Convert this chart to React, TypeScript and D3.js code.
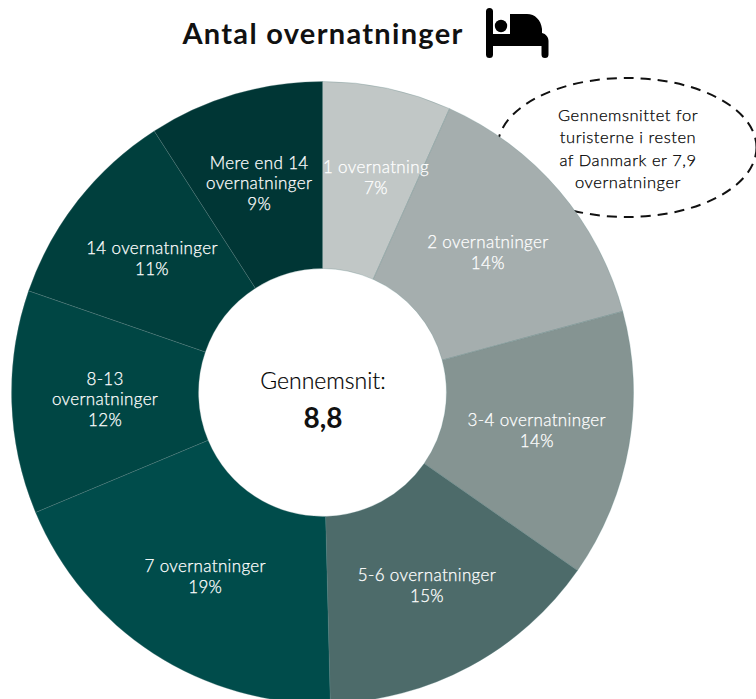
import React from 'react';
import * as d3 from 'd3';

const shares = [6.7, 14.1, 13.9, 14.9, 19.1, 11.6, 10.6, 9.1];
const labels = [
  ['1 overnatning', '7%'],
  ['2 overnatninger', '14%'],
  ['3-4 overnatninger', '14%'],
  ['5-6 overnatninger', '15%'],
  ['7 overnatninger', '19%'],
  ['8-13', 'overnatninger', '12%'],
  ['14 overnatninger', '11%'],
  ['Mere end 14', 'overnatninger', '9%'],
];
const colors = ['#c1c7c6', '#a5aeae', '#859492', '#4d6b6a', '#004c4b', '#004644', '#003f3d', '#003635'];
const noteLines = ['Gennemsnittet for', 'turisterne i resten', 'af Danmark er 7,9', 'overnatninger'];

// hand placed labels, nudged away from the slice centroid
const nudges = [[8, 0], [0, 3], [0, 2.5], [1.5, 3.5], [1, 3.5], [0, 2], [0.5, 2.5], [-2, 1.5]];

const width = 756;
const height = 699;
const cx = 322.5;
const cy = 392.5;
const outer = 311;
const inner = 124;
const font = 'Lato, "Open Sans", sans-serif';

function App() {
  const pie = d3.pie<number>().sort(null)(shares);
  const arc = d3.arc<d3.PieArcDatum<number>>().innerRadius(inner).outerRadius(outer);

  return (
    <svg
      width={width}
      height={height}
      viewBox={`0 0 ${width} ${height}`}
      style={{ position: 'absolute', left: 0, top: 0, fontFamily: font }}
    >
      <rect width={width} height={height} fill="#fff" />

      <text x={323} y={44} textAnchor="middle" fontSize={29} fontWeight={700} letterSpacing={1.3} fill="#111">
        Antal overnatninger
      </text>
      <path
        d="M489.5 8a3.5 3.5 0 0 1 3.5 3.5V34h17V14h17c8 0 14 6 15 15v4c4 1 6.500 4 6.500 8v13.500a3.500 3.500 0 0 1-7 0V46H493v8.500a3.500 3.500 0 0 1-7 0v-43A3.500 3.500 0 0 1 489.500 8z"
        fill="#000"
      />
      <circle cx={501} cy={26} r={6.2} fill="#000" />

      <ellipse
        cx={627}
        cy={147.5}
        rx={129.500}
        ry={69.500}
        fill="none"
        stroke="#111"
        strokeWidth={2}
        strokeDasharray="10 7"
      />

      <g transform={`translate(${cx} ${cy})`}>
        {pie.map((d, i) => (
          <path key={i} d={arc(d) ?? ''} fill={colors[i]} stroke="#5f8583" strokeWidth={0.3} />
        ))}
      </g>

      {pie.map((d, i) => {
        const [x, y] = arc.centroid(d);
        const lines = labels[i];
        const top = cy + y + nudges[i][1] - ((lines.length - 1) * 20.8) / 2;
        return (
          <text
            key={i}
            x={cx + x + nudges[i][0]}
            textAnchor="middle"
            dominantBaseline="middle"
            fontSize={17}
            fontWeight={300}
            letterSpacing={0.35}
            fill="#fff"
            stroke="#fff"
            strokeWidth={0.25}
          >
            {lines.map((line, j) => (
              <tspan key={j} x={cx + x + nudges[i][0]} y={top + j * 20.8}>
                {line}
              </tspan>
            ))}
          </text>
        );
      })}

      <text x={323} y={389} textAnchor="middle" fontSize={23} fontWeight={300} fill="#000" stroke="#000" strokeWidth={0.2}>
        Gennemsnit:
      </text>
      <text x={323} y={428} textAnchor="middle" fontSize={28} fontWeight={700} fill="#111">
        8,8
      </text>

      <text
        textAnchor="middle"
        dominantBaseline="middle"
        fontSize={16.5}
        fontWeight={300}
        letterSpacing={0.55}
        fill="#000"
        stroke="#000"
        strokeWidth={0.25}
      >
        {noteLines.map((line, i) => (
          <tspan key={i} x={628} y={117 + i * 22.3}>
            {line}
          </tspan>
        ))}
      </text>
    </svg>
  );
}

export default App;
